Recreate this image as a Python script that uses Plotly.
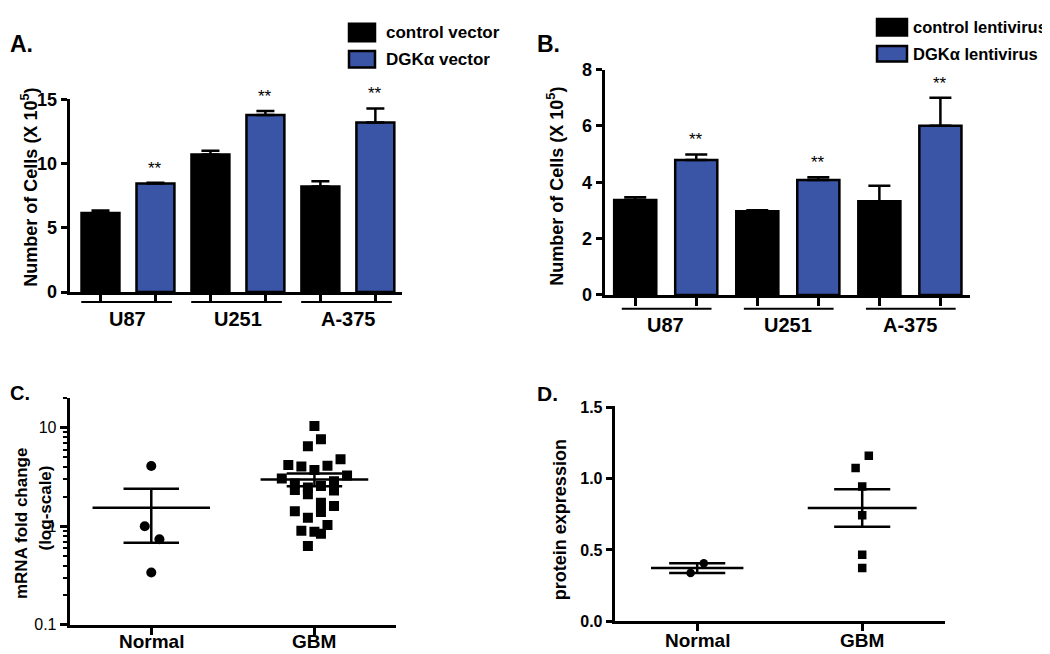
import numpy as np
import plotly.graph_objects as go

W, H = 1050, 654
FONT = "Liberation Sans, Arial, sans-serif"
BLUE = "#3a54a6"

# ---------------- data ----------------
groups = ["U87", "U251", "A-375"]
series_names_a = ["control vector", "DGKα vector"]
series_names_b = ["control lentivirus", "DGKα lentivirus"]

# Panel A (Number of cells x 10^5)
a_control = [6.15, 10.72, 8.21]
a_control_err = [0.20, 0.28, 0.42]
a_dgk = [8.46, 13.79, 13.21]
a_dgk_err = [0.05, 0.31, 1.09]
a_yticks = [0, 5, 10, 15]

# Panel B
b_control = [3.37, 2.97, 3.33]
b_control_err = [0.10, 0.04, 0.55]
b_dgk = [4.79, 4.08, 6.01]
b_dgk_err = [0.20, 0.10, 0.99]
b_yticks = [0, 2, 4, 6, 8]

# Panel C (mRNA fold change, log scale)
c_categories = ["Normal", "GBM"]
c_normal = [4.1, 1.0, 0.74, 0.34]
c_normal_jitter = [0.0, -0.04, 0.05, 0.0]
c_gbm = [10.4, 7.65, 6.5, 4.8, 4.2, 4.05, 4.12, 3.72, 3.28, 3.06, 2.86, 2.72,
         2.56, 2.48, 2.33, 2.31, 2.12, 1.73, 1.61, 1.42, 1.40, 1.22, 1.03,
         0.90, 0.88, 0.84, 0.63]
c_gbm_jitter = [0.0, 0.04, -0.04, 0.16, -0.16, -0.08, 0.08, 0.0, 0.2, -0.2, 0.12,
                -0.12, 0.04, -0.04, -0.12, 0.12, -0.04, 0.04, 0.12, -0.12, 0.04,
                -0.04, 0.08, -0.08, 0.0, 0.04, -0.04]
c_yticks = [0.1, 1, 10]
c_yticklabels = ["0.1", "1", "10"]
c_minor = [0.2, 0.3, 0.4, 0.5, 0.6, 0.7, 0.8, 0.9, 2, 3, 4, 5, 6, 7, 8, 9, 20]

# Panel D (protein expression)
d_categories = ["Normal", "GBM"]
d_normal = [0.339, 0.407]
d_normal_jitter = [-0.04, 0.04]
d_gbm = [1.159, 1.073, 0.945, 0.743, 0.466, 0.373]
d_gbm_jitter = [0.04, -0.04, 0.0, 0.0, 0.0, 0.0]
d_yticks = [0.0, 0.5, 1.0, 1.5]
d_yticklabels = ["0.0", "0.5", "1.0", "1.5"]


def px_x(p):
    return p / W


def px_y(p):
    return 1 - p / H


fig = go.Figure()
annotations = []
shapes = []


def bar_panel(xa, ya, ctrl, ctrl_err, dgk, dgk_err, capw, ul_lo, ul_hi, ul_y, lab_y):
    ctrl_x = [2 * g for g in range(len(groups))]
    dgk_x = [2 * g + 1 for g in range(len(groups))]
    fig.add_trace(go.Bar(
        x=ctrl_x, y=ctrl, width=0.69, xaxis=xa, yaxis=ya,
        marker=dict(color="black", line=dict(color="black", width=2.5)),
        error_y=dict(type="data", symmetric=False, array=ctrl_err,
                     arrayminus=[0] * len(ctrl), color="black", thickness=2.5, width=capw),
    ))
    fig.add_trace(go.Bar(
        x=dgk_x, y=dgk, width=0.69, xaxis=xa, yaxis=ya,
        marker=dict(color=BLUE, line=dict(color="black", width=2.5)),
        error_y=dict(type="data", symmetric=False, array=dgk_err,
                     arrayminus=[0] * len(dgk), color="black", thickness=2.5, width=capw),
    ))
    for g, name in enumerate(groups):
        annotations.append(dict(
            x=dgk_x[g], y=dgk[g] + dgk_err[g], xref=xa, yref=ya, text="**",
            showarrow=False, yanchor="bottom", yshift=3,
            font=dict(family=FONT, size=17, color="black")))
        annotations.append(dict(
            x=2 * g + 0.5, y=px_y(lab_y), xref=xa, yref="paper", text=name,
            showarrow=False, yanchor="middle",
            font=dict(family=FONT, size=20, color="black", weight="bold")))
        shapes.append(dict(
            type="line", xref=xa, yref="paper", x0=2 * g + ul_lo, x1=2 * g + ul_hi,
            y0=px_y(ul_y), y1=px_y(ul_y), line=dict(color="black", width=2)))


bar_panel("x", "y", a_control, a_control_err, a_dgk, a_dgk_err, 9, -0.35, 1.3, 293, 310)
bar_panel("x2", "y2", b_control, b_control_err, b_dgk, b_dgk_err, 11, -0.22, 1.25, 300, 317)


def dot_panel(xa, ya, cats, normal, njit, gbm, gjit, size, nmean_hw, gmean_hw, lab_y):
    fig.add_trace(go.Scatter(
        x=[0 + j for j in njit], y=normal, mode="markers", xaxis=xa, yaxis=ya,
        marker=dict(symbol="circle", size=size, color="black")))
    fig.add_trace(go.Scatter(
        x=[1 + j for j in gjit], y=gbm, mode="markers", xaxis=xa, yaxis=ya,
        marker=dict(symbol="square", size=size, color="black")))
    lx, ly = [], []
    for c, vals, hw in ((0, normal, nmean_hw), (1, gbm, gmean_hw)):
        v = np.array(vals, dtype=float)
        m = v.mean()
        sem = v.std(ddof=1) / np.sqrt(len(v))
        lx += [c - hw, c + hw, None, c - 0.17, c + 0.17, None, c - 0.17, c + 0.17, None, c, c, None]
        ly += [m, m, None, m + sem, m + sem, None, m - sem, m - sem, None, m - sem, m + sem, None]
    fig.add_trace(go.Scatter(x=lx, y=ly, mode="lines", xaxis=xa, yaxis=ya,
                             line=dict(color="black", width=2.5)))
    for c, name in enumerate(cats):
        annotations.append(dict(
            x=c, y=px_y(lab_y), xref=xa, yref="paper", text=name,
            showarrow=False, yanchor="middle",
            font=dict(family=FONT, size=19, color="black", weight="bold")))


dot_panel("x3", "y3", c_categories, c_normal, c_normal_jitter, c_gbm, c_gbm_jitter,
          10, 0.36, 0.33, 643)
dot_panel("x4", "y4", d_categories, d_normal, d_normal_jitter, d_gbm, d_gbm_jitter,
          8.5, 0.28, 0.33, 642)

# ---------------- axes ----------------
bold_tick = dict(family=FONT, size=18, color="black", weight="bold")
common = dict(showline=True, linewidth=3, linecolor="black", showgrid=False,
              zeroline=False, ticks="outside", tickcolor="black", tickwidth=2.5)

fig.update_layout(
    xaxis=dict(domain=[px_x(61.7), px_x(394.3)], range=[-0.56, 5.49], anchor="y",
               tickvals=list(range(6)), showticklabels=False, ticklen=8, **common),
    yaxis=dict(domain=[px_y(282.7), px_y(84)], range=[0, 15], anchor="x",
               tickvals=a_yticks, ticklen=6, tickfont=bold_tick, **common),
    xaxis2=dict(domain=[px_x(596.7), px_x(961.7)], range=[-0.5, 5.48], anchor="y2",
                tickvals=list(range(6)), showticklabels=False, ticklen=8, **common),
    yaxis2=dict(domain=[px_y(285.7), px_y(53.3)], range=[0, 8], anchor="x2",
                tickvals=b_yticks, ticklen=6, tickfont=bold_tick, **common),
    xaxis3=dict(domain=[px_x(61.7), px_x(388)], range=[-0.5, 1.5], anchor="y3",
                tickvals=[0, 1], showticklabels=False, ticklen=7, **common),
    yaxis3=dict(domain=[px_y(626), px_y(391.7)], type="log", range=[-1, 1.305], anchor="x3",
                tickvals=c_yticks, ticktext=c_yticklabels, ticklen=7,
                tickfont=dict(family=FONT, size=16, color="black"),
                minor=dict(tickvals=c_minor, ticks="outside", ticklen=4, tickwidth=2,
                           tickcolor="black", showgrid=False),
                **common),
    xaxis4=dict(domain=[px_x(606.7), px_x(936.7)], range=[-0.5, 1.5], anchor="y4",
                tickvals=[0, 1], showticklabels=False, ticklen=7, **common),
    yaxis4=dict(domain=[px_y(622.3), px_y(400.7)], range=[0, 1.505], anchor="x4",
                tickvals=d_yticks, ticktext=d_yticklabels, ticklen=6,
                tickfont=dict(family=FONT, size=16, color="black", weight="bold"), **common),
)

# ---------------- titles / labels ----------------
def txt(x, y, text, size, bold=True, angle=0, xanchor="center"):
    f = dict(family=FONT, size=size, color="black")
    if bold:
        f["weight"] = "bold"
    annotations.append(dict(x=px_x(x), y=px_y(y), xref="paper", yref="paper", text=text,
                            showarrow=False, textangle=angle, xanchor=xanchor,
                            yanchor="middle", font=f))


txt(22, 175, "Number of Cells (X 10<sup>5</sup>)", 18, angle=-90)
txt(548, 174, "Number of Cells (X 10<sup>5</sup>)", 18, angle=-90)
txt(13, 522, "mRNA fold change", 17, angle=-90)
txt(38, 506, "(log-scale)", 17, angle=-90)
txt(552, 518, "protein expression", 18, angle=-90)

txt(0, 27, "A.", 23, xanchor="left")
txt(527, 27, "B.", 23, xanchor="left")
txt(0, 387, "C.", 20, xanchor="left")
txt(527, 387, "D.", 21, xanchor="left")

# legends
def legend_box(x0, y0, x1, y1, color):
    shapes.append(dict(type="rect", xref="paper", yref="paper",
                       x0=px_x(x0), x1=px_x(x1), y0=px_y(y1), y1=px_y(y0),
                       fillcolor=color, line=dict(color="black", width=2.5)))


legend_box(341, 6, 367, 24, "black")
legend_box(341, 34, 367, 51, BLUE)
txt(376, 15, series_names_a[0], 17, xanchor="left")
txt(376, 43, series_names_a[1], 17, xanchor="left")

legend_box(869, 1, 899, 18, "black")
legend_box(869, 29, 899, 45, BLUE)
txt(903, 9, series_names_b[0], 16.5, xanchor="left")
txt(903, 37, series_names_b[1], 16.5, xanchor="left")

fig.update_layout(
    width=W, height=H, margin=dict(l=0, r=0, t=0, b=0),
    paper_bgcolor="white", plot_bgcolor="white", showlegend=False,
    annotations=annotations, shapes=shapes,
    font=dict(family=FONT, color="black"),
)

fig.write_html("out.html")
